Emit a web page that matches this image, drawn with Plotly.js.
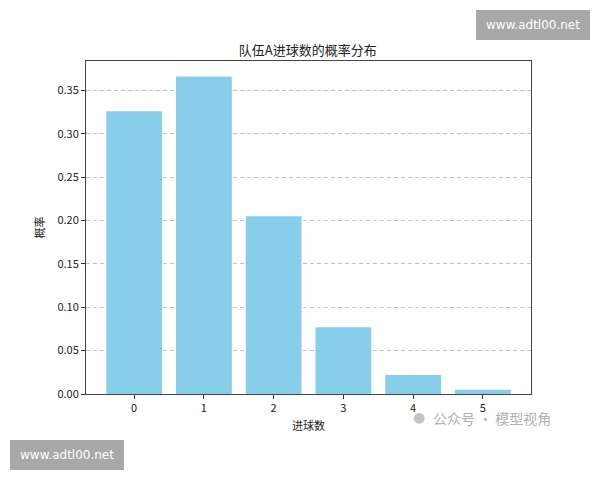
<!DOCTYPE html>
<html>
<head>
<meta charset="utf-8">
<script src="https://cdn.plot.ly/plotly-3.0.1.min.js"></script>
<style>
  body { margin: 0; background: #fff; }
  #chart { width: 600px; height: 480px; }
</style>
</head>
<body>
<div id="chart"></div>
<script>
// goals scored by team A and their probability
const goals = [0, 1, 2, 3, 4, 5];
const probs = [0.326, 0.366, 0.205, 0.077, 0.022, 0.005];
const yTicks = [0, 0.05, 0.10, 0.15, 0.20, 0.25, 0.30, 0.35];
const yTickText = ['0.00', '0.05', '0.10', '0.15', '0.20', '0.25', '0.30', '0.35'];

const cjk = '"Noto Sans CJK SC", "DejaVu Sans", sans-serif';

// plot area in pixels, used to place the watermarks
const PL = 86, PR = 531, PT = 61, PB = 394;
const px = x => (x - PL) / (PR - PL);
const py = y => (PB - y) / (PB - PT);

const trace = {
    x: goals,
    y: probs,
    type: 'bar',
    width: 0.8,
    marker: { color: '#87ceeb', line: { width: 0 } },
    hoverinfo: 'x+y'
};

const layout = {
    width: 600,
    height: 480,
    margin: { l: PL, r: 600 - PR, t: PT, b: 480 - PB },
    paper_bgcolor: '#fff',
    plot_bgcolor: '#fff',
    showlegend: false,
    font: { family: cjk, size: 11, color: '#222' },
    title: {
        text: '队伍A进球数的概率分布',
        font: { family: cjk, size: 13, color: '#222' },
        x: 0.513, xanchor: 'center',
        y: 1 - 50 / 480, yanchor: 'middle'
    },
    xaxis: {
        range: [-0.69, 5.69],
        tickvals: goals,
        ticks: 'outside', ticklen: 4, tickcolor: '#333',
        showgrid: false, zeroline: false,
        showline: true, linecolor: '#444', linewidth: 1, mirror: true,
        title: { text: '进球数', font: { family: cjk, size: 11 }, standoff: 8 }
    },
    yaxis: {
        range: [0, 0.384],
        tickvals: yTicks, ticktext: yTickText,
        ticks: 'outside', ticklen: 4, tickcolor: '#333',
        showgrid: true, gridcolor: '#c4c4c4', griddash: '4px,3px', gridwidth: 1,
        zeroline: false,
        showline: true, linecolor: '#444', linewidth: 1, mirror: true,
        title: { text: '概率', font: { family: cjk, size: 11 }, standoff: 10 }
    },
    shapes: [
        { type: 'rect', xref: 'paper', yref: 'paper', layer: 'above',
          x0: px(476), x1: px(590), y0: py(40), y1: py(10),
          fillcolor: '#a8a8a8', line: { width: 0 } },
        { type: 'rect', xref: 'paper', yref: 'paper', layer: 'above',
          x0: px(10), x1: px(124), y0: py(470), y1: py(440),
          fillcolor: '#a8a8a8', line: { width: 0 } }
    ],
    annotations: [
        { xref: 'paper', yref: 'paper', showarrow: false, xanchor: 'center', yanchor: 'middle',
          x: px(533), y: py(25),
          text: 'www.adtl00.net', font: { family: 'DejaVu Sans', size: 12, color: '#fff' } },
        { xref: 'paper', yref: 'paper', showarrow: false, xanchor: 'center', yanchor: 'middle',
          x: px(67), y: py(455),
          text: 'www.adtl00.net', font: { family: 'DejaVu Sans', size: 12, color: '#fff' } },
        { xref: 'paper', yref: 'paper', showarrow: false, xanchor: 'left', yanchor: 'middle',
          x: px(431), y: py(418),
          text: '公众号 · 模型视角', font: { family: cjk, size: 14, color: '#b0b0b0' } },
        { xref: 'paper', yref: 'paper', showarrow: false, xanchor: 'center', yanchor: 'middle',
          x: px(419), y: py(417),
          text: '●', font: { family: 'DejaVu Sans', size: 14, color: '#c4c4c4' } }
    ]
};

Plotly.newPlot('chart', [trace], layout, { displayModeBar: false, staticPlot: true });
</script>
</body>
</html>
